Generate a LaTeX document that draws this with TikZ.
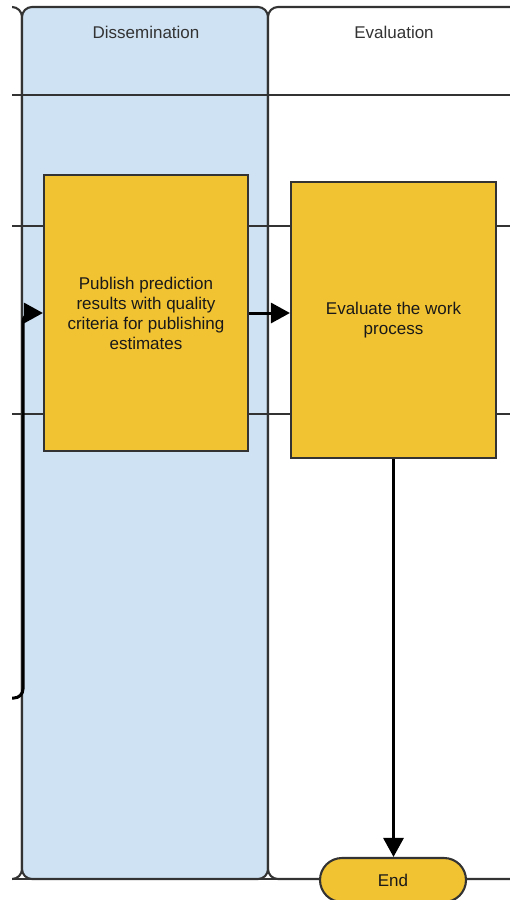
\documentclass[tikz,border=0pt]{standalone}
\usepackage{fontspec}
\setmainfont{Liberation Sans}
\usetikzlibrary{arrows.meta}
\definecolor{laneblue}{HTML}{CFE2F3}
\definecolor{taskgold}{HTML}{F1C232}
\definecolor{edgegray}{HTML}{333333}
\definecolor{labelgray}{HTML}{333333}
\tikzset{
  lanebox/.style={draw=edgegray, line width=2.1pt, rounded corners=10pt},
  rowline/.style={draw=edgegray, line width=2.1pt},
  taskbox/.style={draw=edgegray, fill=taskgold, line width=2.1pt, inner sep=0pt,
    align=center, font=\fontsize{17}{20}\selectfont, text=black!90},
  lanetitle/.style={font=\fontsize{17}{20}\selectfont, text=labelgray},
  conn/.style={draw=black, line width=3pt, -{Triangle[length=19pt,width=20pt]}},
}
\begin{document}
\begin{tikzpicture}[x=1pt,y=-1pt]
\useasboundingbox (0,0) rectangle (510,900);
\clip (12,0) rectangle (510,900);
% swimlanes
\draw[lanebox, fill=white] (-20,7) rectangle (22,879);
\draw[lanebox, fill=laneblue] (22,7) rectangle (268,879);
\draw[lanebox, fill=white] (268,7) rectangle (524,879);
% row separators
\foreach \yy in {95,226,414,879}
  \draw[rowline] (12,\yy) -- (510,\yy);
% lane headers
\node[lanetitle] (dissem) at (146,32) {Dissemination};
\node[lanetitle] (evalhead) at (394,32) {Evaluation};
% tasks
\node[taskbox, minimum width=204pt, minimum height=276pt] (pub) at (146,313)
  {Publish prediction\\results with quality\\criteria for publishing\\estimates};
\node[taskbox, minimum width=205pt, minimum height=276pt] (eval) at (393.5,320)
  {Evaluate the work\\process};
\node[taskbox, rounded corners=22pt, minimum width=146pt, minimum height=44pt] (end) at (393,880) {End};
% flows
\coordinate (src) at (12,698);
\coordinate (turn) at (23,313);
\draw[conn] (src) [rounded corners=9pt] -| (turn) [sharp corners] -- (pub.west);
\draw[conn] (pub.east) -- (pub.east -| eval.west);
\draw[conn] (eval.south) -- (eval.south |- end.north);
\end{tikzpicture}
\end{document}
